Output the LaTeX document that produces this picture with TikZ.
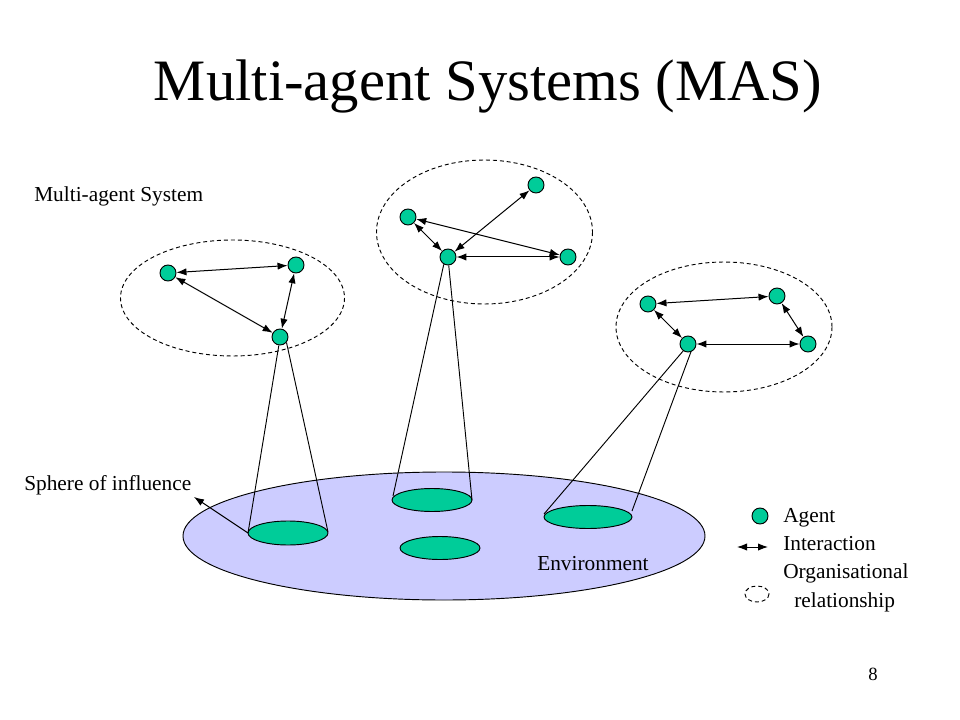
\documentclass[tikz,border=0pt]{standalone}
\usepackage{fontspec}
\setmainfont{Liberation Serif}
\usetikzlibrary{arrows.meta}
\definecolor{agentgreen}{HTML}{00CC99}
\definecolor{envblue}{HTML}{CCCCFF}
\begin{document}
\begin{tikzpicture}[x=0.75pt,y=-0.75pt,
  agent/.style={circle,draw=black,line width=0.7pt,fill=agentgreen,minimum size=12pt,inner sep=0pt},
  sphere/.style={draw=black,line width=0.7pt,fill=agentgreen},
  org/.style={draw=black,line width=0.7pt,dash pattern=on 3pt off 2.2pt},
  tip/.style={Latex[length=7.5pt,width=5.5pt]},
  inter/.style={{Latex[length=7.5pt,width=5.5pt]}-{Latex[length=7.5pt,width=5.5pt]},line width=0.75pt},
  cone/.style={line width=0.7pt},
  lbl/.style={font=\fontsize{16pt}{18pt}\selectfont,anchor=base west,inner sep=0pt}]
\useasboundingbox (0,0) rectangle (960,720);
% title
\node[font=\fontsize{44pt}{50pt}\selectfont,anchor=base,inner sep=0pt] (title) at (488,101) {Multi-agent Systems (MAS)};
% environment
\draw[fill=envblue,line width=0.7pt] (444,536) ellipse [x radius=261,y radius=64];
\node[lbl] (envlbl) at (537,570) {Environment};
% spheres of influence
\draw[sphere] (288,533) ellipse [x radius=40,y radius=12];
\draw[sphere] (432,500) ellipse [x radius=40,y radius=11.5];
\draw[sphere] (440,548) ellipse [x radius=40,y radius=11.5];
\draw[sphere] (588,517) ellipse [x radius=44,y radius=11.5];
\coordinate (E1w) at (248,533); \coordinate (E1e) at (328,532);
\coordinate (E2w) at (393,496); \coordinate (E2e) at (472,500);
\coordinate (E4w) at (544,514); \coordinate (E4e) at (632,511);
% organisational ellipses
\draw[org] (232.5,298) ellipse [x radius=112,y radius=58];
\draw[org] (484.5,232) ellipse [x radius=108,y radius=72];
\draw[org] (724,327) ellipse [x radius=108,y radius=65];
% agents
\node[agent] (A1) at (168,273) {};
\node[agent] (A2) at (296,265) {};
\node[agent] (A3) at (280,337) {};
\node[agent] (B1) at (408,217) {};
\node[agent] (B2) at (536,185) {};
\node[agent] (B3) at (448,257) {};
\node[agent] (B4) at (568,257) {};
\node[agent] (C1) at (648,304) {};
\node[agent] (C2) at (777,296) {};
\node[agent] (C3) at (688,344) {};
\node[agent] (C4) at (808,344) {};
% interactions
\draw[inter] (A1) -- (A2);
\draw[inter] (A1) -- (A3);
\draw[inter] (A2) -- (A3);
\draw[inter] (B1) -- (B3);
\draw[inter] (B1) -- (B4);
\draw[inter] (B3) -- (B2);
\draw[inter] (B3) -- (B4);
\draw[inter] (C1) -- (C2);
\draw[inter] (C1) -- (C3);
\draw[inter] (C2) -- (C4);
\draw[inter] (C3) -- (C4);
% cones
\draw[cone] (A3.262) -- (E1w);
\draw[cone] (A3.-40) -- (E1e);
\draw[cone] (B3.240) -- (E2w);
\draw[cone] (B3.-85) -- (E2e);
\draw[cone] (C3.235) -- (E4w);
\draw[cone] (C3.-70) -- (E4e);
% labels
\node[lbl] (maslbl) at (34,202) {Multi-agent System};
\node[lbl] (sphlbl) at (24,490) {Sphere of influence};
\coordinate (sphtip) at (194,497);
\draw[-{Latex[length=7.5pt,width=5.5pt]},line width=0.75pt] (E1w) -- (sphtip);
% legend
\node[agent] (legA) at (760,516) {};
\node[lbl] (legAt) at (783,522) {Agent};
\coordinate (legI1) at (737,547); \coordinate (legI2) at (768,547);
\draw[inter] (legI1) -- (legI2);
\node[lbl] (legIt) at (783,550) {Interaction};
\node[lbl] (legOt) at (783,578) {Organisational};
\draw[org] (757,594) ellipse [x radius=12,y radius=8];
\node[lbl] (legRt) at (794,607) {relationship};
\node[font=\fontsize{14pt}{16pt}\selectfont,anchor=base,inner sep=0pt] (pnum) at (873,680) {8};
\end{tikzpicture}
\end{document}
